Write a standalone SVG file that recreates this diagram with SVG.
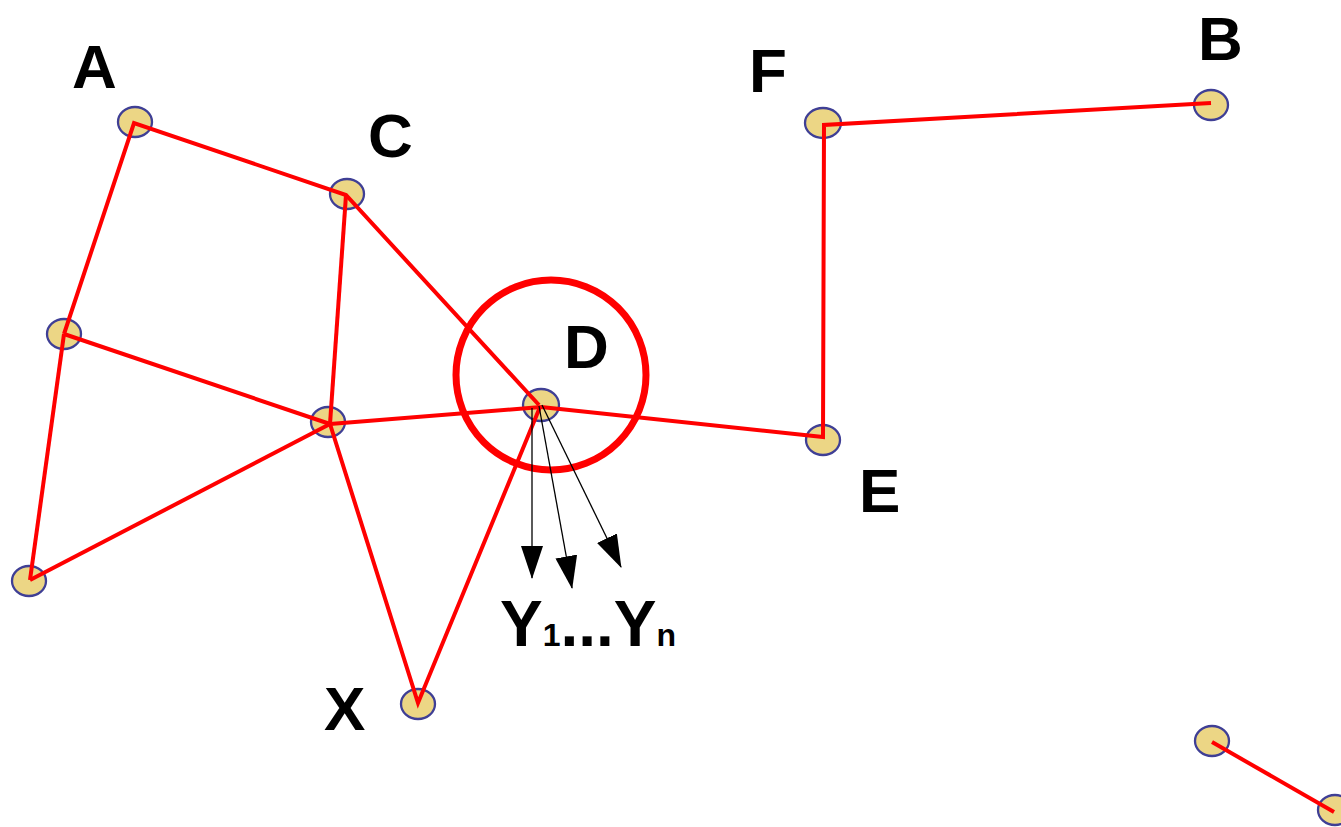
<svg xmlns="http://www.w3.org/2000/svg" width="1341" height="827" viewBox="0 0 1341 827">
<style>
.node{fill:#ecd685;stroke:#3f3f95;stroke-width:2.3}
.edge{stroke:#ff0000;stroke-width:4;fill:none;stroke-linecap:butt}
.arrow{stroke:#000;stroke-width:1.3;fill:none}
.lbl{font-family:"Liberation Sans",Arial,sans-serif;font-weight:bold;font-size:62px;fill:#000}
.ys{font-size:64px}
.sub{font-size:32px}
</style>
<defs>
<marker id="ah" markerUnits="userSpaceOnUse" markerWidth="34" markerHeight="22" refX="32" refY="11" orient="auto" viewBox="0 0 34 22">
<path d="M0,0 L33,11 L0,22 Z" fill="#000"/>
</marker>
</defs>
<rect width="1341" height="827" fill="#fff"/>
<g id="nodes">
<g id="nA"><ellipse class="node" cx="135" cy="122" rx="17" ry="15"/></g>
<g id="nC"><ellipse class="node" cx="347" cy="194" rx="17" ry="15"/></g>
<g id="nL"><ellipse class="node" cx="64" cy="334" rx="17" ry="15"/></g>
<g id="nM"><ellipse class="node" cx="328" cy="422" rx="17" ry="15"/></g>
<g id="nD"><ellipse class="node" cx="541" cy="405" rx="18" ry="16"/></g>
<g id="nBL"><ellipse class="node" cx="29" cy="581" rx="17" ry="15"/></g>
<g id="nX"><ellipse class="node" cx="418" cy="704" rx="17" ry="15"/></g>
<g id="nE"><ellipse class="node" cx="823" cy="440" rx="17" ry="15"/></g>
<g id="nF"><ellipse class="node" cx="823" cy="123" rx="18" ry="15"/></g>
<g id="nB"><ellipse class="node" cx="1211" cy="105" rx="17" ry="15"/></g>
<g id="nG"><ellipse class="node" cx="1212" cy="741" rx="17" ry="15"/></g>
<g id="nH"><ellipse class="node" cx="1335" cy="810" rx="17" ry="15"/></g>
</g>
<g id="connectors">
<polyline class="edge" points="64,334 134,123 346,195 539,405"/>
<line class="edge" x1="346" y1="195" x2="330" y2="424"/>
<line class="edge" x1="64" y1="334" x2="330" y2="424"/>
<line class="edge" x1="64" y1="334" x2="30" y2="580"/>
<line class="edge" x1="330" y1="424" x2="30" y2="580"/>
<line class="edge" x1="330" y1="424" x2="541" y2="407"/>
<polyline class="edge" points="541,407 823,437 824,125 1211,103"/>
<polyline class="edge" points="330,424 418,703 540,407"/>
<line class="edge" x1="1212" y1="742" x2="1334" y2="812"/>
<circle cx="551" cy="375" r="95" fill="none" stroke="#ff0000" stroke-width="7"/>
<line class="arrow" x1="532" y1="408" x2="532" y2="578" marker-end="url(#ah)"/>
<line class="arrow" x1="539" y1="406" x2="572" y2="588" marker-end="url(#ah)"/>
<line class="arrow" x1="542" y1="405" x2="621" y2="567" marker-end="url(#ah)"/>
</g>
<g id="labels">
<text class="lbl" x="72" y="88">A</text>
<text class="lbl" x="368" y="157">C</text>
<text class="lbl" x="749" y="92">F</text>
<text class="lbl" x="1198" y="60">B</text>
<text class="lbl" x="564" y="368">D</text>
<text class="lbl" x="859" y="512">E</text>
<text class="lbl" x="324" y="730">X</text>
<text class="lbl ys" x="500" y="646">Y<tspan class="sub">1</tspan>...Y<tspan class="sub">n</tspan></text>
</g>
</svg>
